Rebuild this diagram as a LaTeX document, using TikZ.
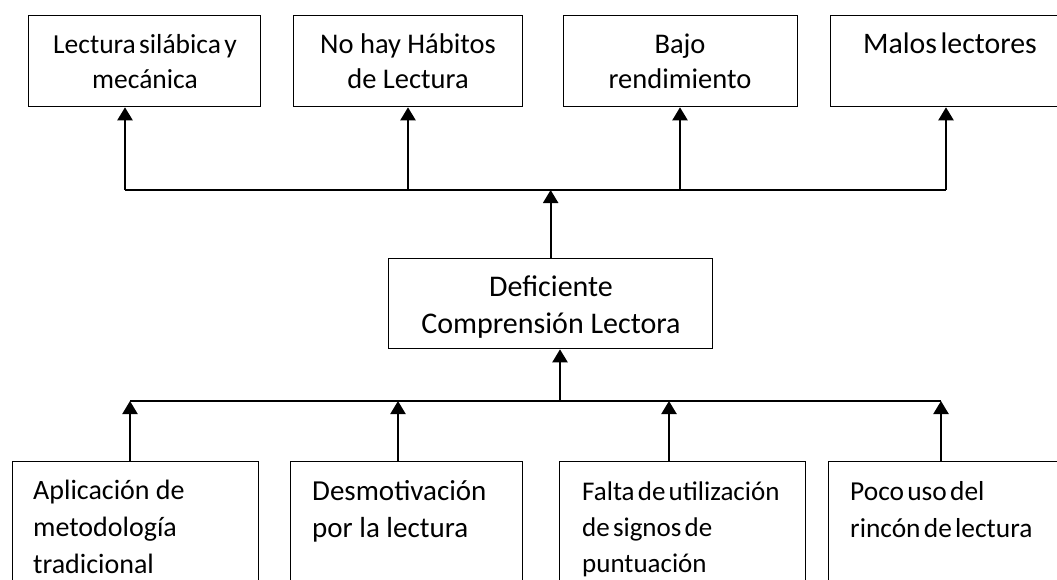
\documentclass[tikz,border=0pt]{standalone}
\usepackage{fontspec}
\setmainfont{Carlito}
\usetikzlibrary{arrows.meta}
\tikzset{
  caja/.style={draw, line width=1.3pt, rectangle, inner sep=0pt, anchor=north west},
  txtc/.style={inner sep=0pt, anchor=base, align=center, font=\fontsize{28.5}{34.5}\selectfont},
  txtl/.style={inner sep=0pt, anchor=base west, align=left, font=\fontsize{28}{37}\selectfont},
  flecha/.style={line width=2.2pt, -{Triangle[width=15pt,length=13pt]}},
  linea/.style={line width=1.8pt}
}
\newcommand{\apretado}{\spaceskip=0.12em plus 0.05em\relax}
\begin{document}
\begin{tikzpicture}[x=1pt,y=-1pt]
  \useasboundingbox (0,0) rectangle (1057,579);
  \clip (0,0) rectangle (1057,579);
  % efectos
  \node[caja, minimum width=232pt, minimum height=91pt] (e1) at (28,15) {};
  \node[caja, minimum width=229pt, minimum height=91pt] (e2) at (293,15) {};
  \node[caja, minimum width=234pt, minimum height=91pt] (e3) at (563,15) {};
  \node[caja, minimum width=260pt, minimum height=91pt] (e4) at (830,15) {};
  \node[txtc, font=\fontsize{27.5}{34.5}\selectfont\apretado] (te1) at (145,88) {Lectura silábica y\\mecánica};
  \node[txtc] (te2) at (408,88) {No hay Hábitos\\de Lectura};
  \node[txtc] (te3) at (680,88) {Bajo\\rendimiento};
  \node[txtc, font=\fontsize{29.8}{34.5}\selectfont\apretado] (te4) at (950,53) {Malos lectores};
  % problema central
  \node[caja, minimum width=324pt, minimum height=90pt] (p) at (388,258) {};
  \node[txtc, font=\fontsize{30}{37}\selectfont] (tp) at (551,333) {Deficiente\\Comprensión Lectora};
  % causas
  \node[caja, minimum width=246pt, minimum height=140pt] (c1) at (12,461) {};
  \node[caja, minimum width=232pt, minimum height=140pt] (c2) at (290,461) {};
  \node[caja, minimum width=246pt, minimum height=140pt] (c3) at (559,461) {};
  \node[caja, minimum width=260pt, minimum height=140pt] (c4) at (828,461) {};
  \node[txtl] (tc1) at (33,573) {Aplicación de\\metodología\\tradicional};
  \node[txtl, font=\fontsize{29}{37}\selectfont] (tc2) at (312,537) {Desmotivación\\por la lectura};
  \node[txtl, font=\fontsize{27}{36}\selectfont\apretado] (tc3) at (582,572) {Falta de utilización\\de signos de\\puntuación};
  \node[txtl, font=\fontsize{27.4}{37}\selectfont\apretado] (tc4) at (850,537) {Poco uso del\\rincón de lectura};
  % conectores de arriba
  \coordinate (j1) at (125,190); \coordinate (j2) at (408,190);
  \coordinate (j3) at (680,190); \coordinate (j4) at (946,190);
  \draw[linea] (j1) -- (j4);
  \draw[flecha] (j1) -- (j1 |- e1.south);
  \draw[flecha] (j2) -- (j2 |- e2.south);
  \draw[flecha] (j3) -- (j3 |- e3.south);
  \draw[flecha] (j4) -- (j4 |- e4.south);
  \draw[flecha] (p.north) -- (p.north |- j1);
  % conectores de abajo
  \coordinate (k0) at (560,401);
  \coordinate (k1) at (130,401); \coordinate (k2) at (398,401);
  \coordinate (k3) at (669,401); \coordinate (k4) at (941,401);
  \draw[linea] (k1) -- (k4);
  \draw[flecha] (k0) -- (k0 |- p.south);
  \draw[flecha] (k1 |- c1.north) -- (k1);
  \draw[flecha] (k2 |- c2.north) -- (k2);
  \draw[flecha] (k3 |- c3.north) -- (k3);
  \draw[flecha] (k4 |- c4.north) -- (k4);
\end{tikzpicture}
\end{document}
